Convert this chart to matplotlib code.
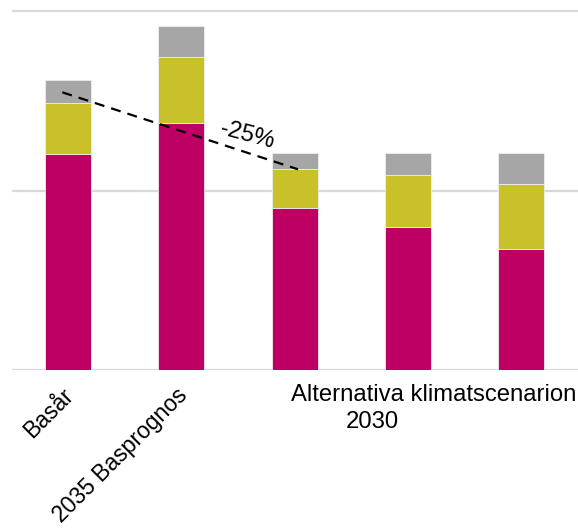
import matplotlib
matplotlib.use("Agg")
import matplotlib.pyplot as plt
import matplotlib.transforms as mtransforms

plt.rcParams['font.family'] = ['Liberation Sans', 'DejaVu Sans']

categories = ["Basår", "2035 Basprognos", "", "", ""]
bottom_vals = [120.3, 137.8, 90.3, 79.8, 67.2]
middle_vals = [28.6, 36.4, 21.5, 28.7, 36.3]
top_vals = [12.5, 17.6, 9.1, 12.4, 17.4]
trend_x = [-0.05, 2.03]
trend_y = [154.7, 111.8]
change_label = "-25%"
group_label_1 = "Alternativa klimatscenarion"
group_label_2 = "2030"

c_bottom = "#BE0064"
c_middle = "#C8C12A"
c_top = "#A6A6A6"

W, H = 578, 530
fig = plt.figure(figsize=(W / 100, H / 100), dpi=100)
ax = fig.add_axes([12 / W, 1 - 370 / H, 1 - 12 / W, (370 - 5) / H])

x = list(range(len(categories)))
bw = 0.406
ec = dict(edgecolor="#EDEDED", linewidth=0.6)
ax.bar(x, bottom_vals, bw, color=c_bottom, zorder=3, **ec)
mid_base = bottom_vals
ax.bar(x, middle_vals, bw, bottom=mid_base, color=c_middle, zorder=3, **ec)
top_base = [b + m for b, m in zip(bottom_vals, middle_vals)]
ax.bar(x, top_vals, bw, bottom=top_base, color=c_top, zorder=3, **ec)

ax.set_xlim(-0.494, 4.501)
ax.set_ylim(0, 365 / 1.795)
ax.set_yticks([0, 100, 200])
ax.set_yticklabels([])
ax.tick_params(axis="y", length=0)
ax.grid(axis="y", color="#D9D9D9", linewidth=1.6, zorder=0)
for s in ax.spines.values():
    s.set_visible(False)

ax.set_xticks(x)
ax.set_xticklabels(categories, rotation=45, ha="right", rotation_mode="anchor",
                   fontsize=16.5)
ax.tick_params(axis="x", length=0, pad=4)
shift = mtransforms.ScaledTranslation(-6 / 100, -8 / 100, fig.dpi_scale_trans)
for lab in ax.get_xticklabels():
    lab.set_transform(lab.get_transform() + shift)

ax.plot(trend_x, trend_y, color="black", linestyle=(0, (4.5, 3.2)),
        linewidth=1.6, zorder=5)
ax.text(1.58, (370 - 135) / 1.795, change_label, fontsize=17, rotation=-15,
        ha="center", va="center", zorder=6)

trans = mtransforms.blended_transform_factory(ax.transData, fig.transFigure)
ax.text((291 - 68) / 113.3, 1 - 401 / H, group_label_1, transform=trans,
        fontsize=17.2, ha="left", va="baseline")
ax.text((346 - 68) / 113.3, 1 - 428 / H, group_label_2, transform=trans,
        fontsize=17.2, ha="left", va="baseline")

fig.savefig("out.png", dpi=100)
